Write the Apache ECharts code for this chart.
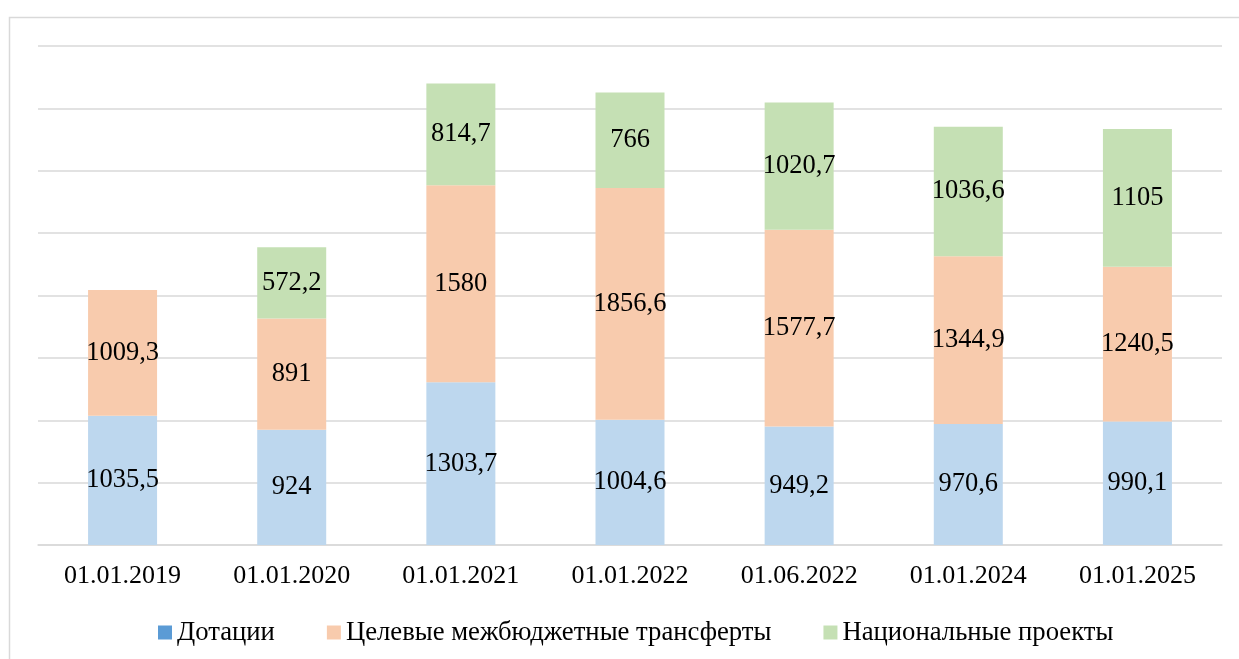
<!DOCTYPE html>
<html>
<head>
<meta charset="utf-8">
<script src="https://cdn.jsdelivr.net/npm/echarts@6/dist/echarts.min.js"></script>
<style>
  html, body { margin: 0; padding: 0; background: #fff; }
  #main { width: 1239px; height: 659px; }
</style>
</head>
<body>
<div id="main"></div>
<script>
var myChart = echarts.init(document.getElementById('main'));

var categories = ['01.01.2019', '01.01.2020', '01.01.2021', '01.01.2022', '01.06.2022', '01.01.2024', '01.01.2025'];
var seriesNames = ['Дотации', 'Целевые межбюджетные трансферты', 'Национальные проекты'];
var dotacii = [1035.5, 924, 1303.7, 1004.6, 949.2, 970.6, 990.1];
var celevye = [1009.3, 891, 1580, 1856.6, 1577.7, 1344.9, 1240.5];
var nacproekty = [null, 572.2, 814.7, 766, 1020.7, 1036.6, 1105];

var barColors = ['#BDD7EE', '#F8CBAD', '#C5E0B4'];
var legendColors = ['#5B9BD5', '#F8CBAD', '#C5E0B4'];
var fontFam = '"Liberation Serif", "DejaVu Serif", serif';

function makeSeries(idx, data) {
    return {
        name: seriesNames[idx],
        type: 'bar',
        stack: 'total',
        barWidth: 69,
        data: data,
        itemStyle: { color: barColors[idx] },
        label: {
            show: true,
            position: 'inside',
            color: '#000',
            fontFamily: fontFam,
            fontSize: 26.5,
            formatter: function (p) {
                return String(p.value).replace('.', ',');
            }
        }
    };
}

var option = {
    backgroundColor: '#fff',
    animation: false,
    graphic: [{
        type: 'rect',
        shape: { x: 9.5, y: 17.5, width: 1240, height: 660 },
        style: { fill: 'none', stroke: '#d9d9d9', lineWidth: 1.5 },
        silent: true
    }],
    grid: { left: 38, right: 17, top: 46, bottom: 114 },
    legend: {
        top: 614,
        left: 153,
        itemWidth: 14,
        itemHeight: 14,
        itemGap: 52,
        icon: 'rect',
        textStyle: { fontFamily: fontFam, fontSize: 26.7, color: '#000' },
        data: seriesNames.map(function (n, i) {
            return { name: n, itemStyle: { color: legendColors[i] } };
        })
    },
    xAxis: {
        type: 'category',
        data: categories,
        axisLine: { lineStyle: { color: '#d9d9d9', width: 1.5 } },
        axisTick: { show: false },
        axisLabel: { fontFamily: fontFam, fontSize: 26, color: '#000', margin: 18 }
    },
    yAxis: {
        type: 'value',
        min: 0,
        max: 4000,
        interval: 500,
        axisLabel: { show: false },
        axisLine: { show: false },
        axisTick: { show: false },
        splitLine: { lineStyle: { color: '#d9d9d9', width: 1.5 } }
    },
    series: [
        makeSeries(0, dotacii),
        makeSeries(1, celevye),
        makeSeries(2, nacproekty)
    ]
};
myChart.setOption(option);
</script>
</body>
</html>
